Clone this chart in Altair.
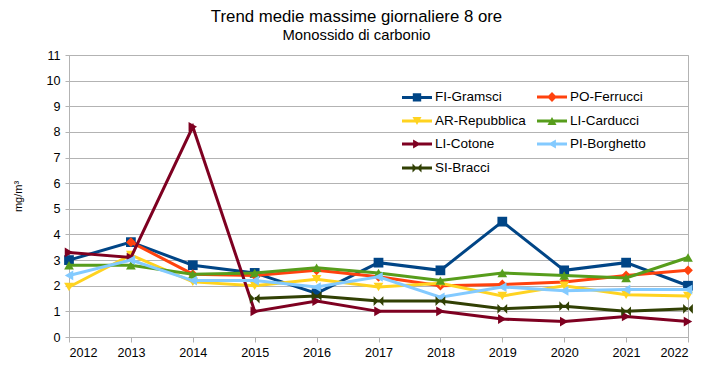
import altair as alt
import pandas as pd

years = [2012, 2013, 2014, 2015, 2016, 2017, 2018, 2019, 2020, 2021, 2022]
series = ["FI-Gramsci", "PO-Ferrucci", "AR-Repubblica", "LI-Carducci",
          "LI-Cotone", "PI-Borghetto", "SI-Bracci"]
fi_gramsci = [3.0, 3.7, 2.8, 2.5, 1.7, 2.9, 2.6, 4.5, 2.6, 2.9, 2.0]
po_ferrucci = [None, 3.7, 2.45, 2.4, 2.6, 2.35, 2.0, 2.05, 2.15, 2.4, 2.6]
ar_repubblica = [1.95, 3.2, 2.15, 2.0, 2.25, 1.95, 2.1, 1.6, 2.0, 1.65, 1.6]
li_carducci = [2.8, 2.8, 2.45, 2.5, 2.7, 2.5, 2.2, 2.5, 2.4, 2.3, 3.1]
li_cotone = [3.3, 3.1, 8.2, 1.0, 1.4, 1.0, 1.0, 0.7, 0.6, 0.8, 0.6]
pi_borghetto = [2.4, 3.0, 2.2, 2.2, 1.95, 2.35, 1.55, 1.95, 1.8, 1.85, 1.85]
si_bracci = [None, None, None, 1.5, 1.6, 1.4, 1.4, 1.1, 1.2, 1.0, 1.1]
values = [fi_gramsci, po_ferrucci, ar_repubblica, li_carducci, li_cotone,
          pi_borghetto, si_bracci]

colors = ["#004586", "#ff420e", "#ffd320", "#579d1c", "#7e0021", "#83caff", "#314004"]
bowtie = "M-1,-1L0,0L-1,1Z M1,1L0,0L1,-1Z"
markers = ["square", "diamond", "triangle-down", "triangle-up",
           "triangle-right", "triangle-left", bowtie]
bar = "M-1,-0.1H1V0.1H-1Z "
legend_shapes = [
    bar + "M-0.28,-0.28H0.28V0.28H-0.28Z",
    bar + "M0,-0.33L0.33,0L0,0.33L-0.33,0Z",
    bar + "M-0.3,-0.26H0.3L0,0.26Z",
    bar + "M0.3,0.26H-0.3L0,-0.26Z",
    bar + "M-0.26,0.3V-0.3L0.26,0Z",
    bar + "M0.26,-0.3V0.3L-0.26,0Z",
    bar + "M-0.3,-0.3L0,0L-0.3,0.3Z M0.3,0.3L0,0L0.3,-0.3Z",
]

rows = []
for name, vals in zip(series, values):
    for yr, v in zip(years, vals):
        if v is not None:
            rows.append({"anno": yr, "valore": v, "stazione": name})
df = pd.DataFrame(rows)

grid_col = "#b3b3b3"
x_enc = alt.X("anno:Q", scale=alt.Scale(domain=[2012, 2022], nice=False, zero=False),
              axis=alt.Axis(values=years, format="d", title=None, grid=False,
                            tickSize=5, labelPadding=4))
y_enc = alt.Y("valore:Q", scale=alt.Scale(domain=[0, 11], nice=False),
              axis=alt.Axis(values=list(range(0, 12)), title="mg/m³", grid=True,
                            tickSize=4, labelPadding=5, titleX=-51, titleY=141,
                            titleAngle=270, titleAlign="center", titleBaseline="middle",
                            titleFontSize=11, titleFontWeight="normal"))

base = alt.Chart(df)
layers = []
for name, col, mk in zip(series, colors, markers):
    sub = base.transform_filter(alt.datum.stazione == name)
    layers.append(sub.mark_line(color=col, strokeWidth=3).encode(x=x_enc, y=y_enc))
    layers.append(sub.mark_point(color=col, filled=True, opacity=1, shape=mk, size=95)
                  .encode(x=x_enc, y=y_enc))

legend = alt.Legend(title=None, orient="none", legendX=332, legendY=26, columns=2,
                    direction="horizontal",
                    symbolSize=900, symbolOpacity=1, labelFontSize=13.5,
                    labelColor="#000", labelOffset=2, rowPadding=-6, columnPadding=8,
                    padding=0, labelFont="Liberation Sans")
legend_layer = base.mark_point(filled=True, opacity=0).encode(
    x=x_enc, y=y_enc,
    color=alt.Color("stazione:N", scale=alt.Scale(domain=series, range=colors), legend=legend),
    shape=alt.Shape("stazione:N", scale=alt.Scale(domain=series, range=legend_shapes), legend=legend),
)
layers.append(legend_layer)

chart = alt.layer(*layers).properties(
    width=619, height=282,
    autosize=alt.AutoSizeParams(type="none"),
    padding={"left": 61, "top": 47, "right": 30, "bottom": 24},
    title=alt.Title(text="Trend medie massime  giornaliere 8 ore",
                    subtitle="Monossido di carbonio",
                    font="Liberation Sans", fontSize=16.8,
                    fontWeight="normal", color="#000",
                    subtitleFont="Liberation Sans",
                    subtitleFontSize=14.8, subtitleColor="#000",
                    anchor="middle", dx=-22, offset=6, subtitlePadding=2),
).configure(font="Liberation Sans").configure_axis(
    labelFontSize=12.6, labelColor="#000", domainColor=grid_col, gridColor=grid_col,
    tickColor=grid_col, domainWidth=1, gridWidth=1, titleColor="#000",
).configure_view(stroke=grid_col, strokeWidth=1)

chart.save("out.html", embed_options={"renderer": "svg", "actions": False})
